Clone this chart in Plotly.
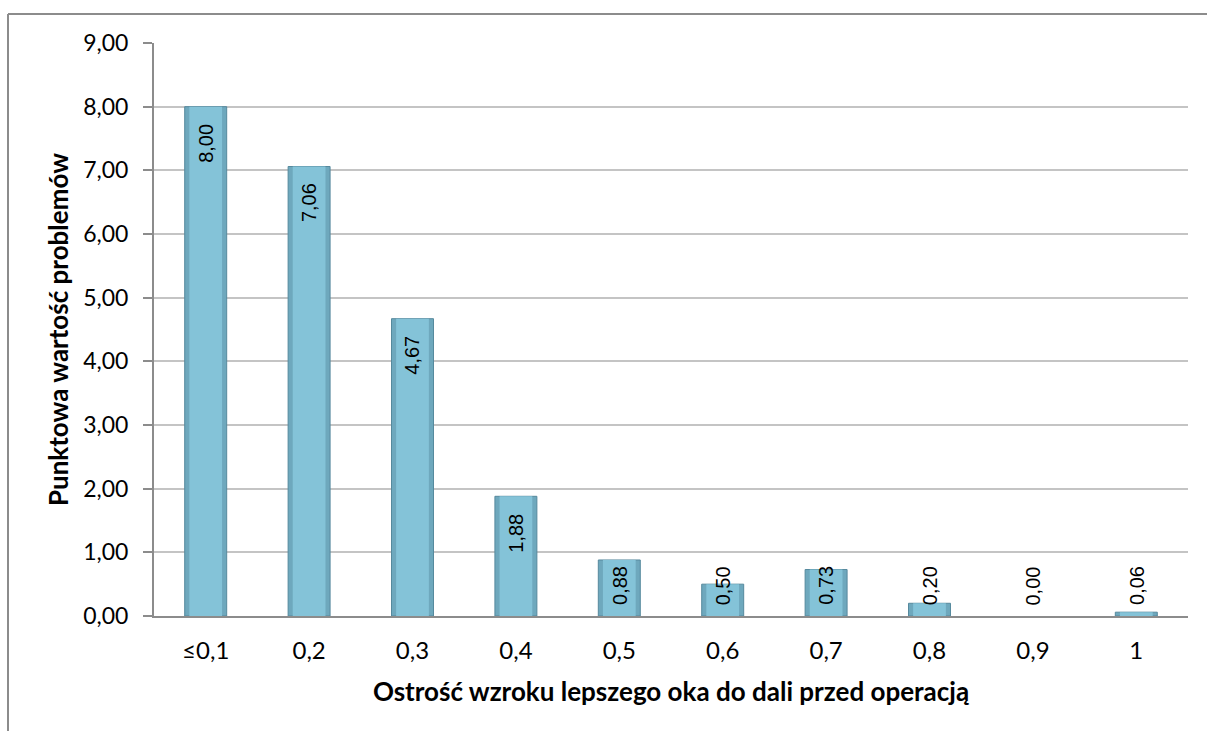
import plotly.graph_objects as go

# Visual acuity of the better eye (distance, pre-op) vs. mean problem score
categories = ["≤0,1", "0,2", "0,3", "0,4", "0,5", "0,6", "0,7", "0,8", "0,9", "1"]
scores = [8.00, 7.06, 4.67, 1.88, 0.88, 0.50, 0.73, 0.20, 0.00, 0.06]
y_ticks = [0, 1, 2, 3, 4, 5, 6, 7, 8, 9]
y_tick_text = ["0,00", "1,00", "2,00", "3,00", "4,00", "5,00", "6,00", "7,00", "8,00", "9,00"]

AXIS_FONT = "Lato, Carlito, Calibri, sans-serif"
LABEL_FONT = "Liberation Sans, Arial, sans-serif"

positions = list(range(len(categories)))
BAR_W = 0.406

fig = go.Figure()
# Bar body with darker bevelled edges
fig.add_trace(go.Bar(
    x=positions, y=scores, width=BAR_W,
    marker=dict(
        color="#6ea8bd",
        line=dict(color="#56899d", width=[1 if v > 0 else 0 for v in scores]),
    ),
    hoverinfo="skip",
))
# Lighter face of each bar
fig.add_trace(go.Bar(
    x=positions, y=scores, width=BAR_W * 0.78,
    marker=dict(color="#84c3d8", line=dict(width=0)),
    hoverinfo="skip",
))

# Rotated value labels near the top of each bar; short bars keep the label
# just above the baseline so it stays readable.
LABEL_MIN = 1.05
for pos, v in zip(positions, scores):
    fig.add_annotation(
        x=pos, y=max(v, LABEL_MIN), xref="x", yref="y",
        text=f"{v:.2f}".replace(".", ","),
        textangle=-90, showarrow=False,
        xanchor="center", yanchor="top", yshift=-15,
        font=dict(family=LABEL_FONT, size=20, color="#000000"),
    )

# Outer chart frame (top and left edges)
fig.add_shape(type="line", xref="paper", yref="paper",
              x0=-0.1412, y0=1.0506, x1=1.03, y1=1.0506,
              line=dict(color="#8c8c8c", width=2))
fig.add_shape(type="line", xref="paper", yref="paper",
              x0=-0.1412, y0=1.0506, x1=-0.1412, y1=-0.21,
              line=dict(color="#8c8c8c", width=2))

fig.update_layout(
    width=1207, height=731,
    margin=dict(l=154, r=19, t=43, b=115),
    paper_bgcolor="white", plot_bgcolor="white",
    barmode="overlay",
    showlegend=False,
    font=dict(family=AXIS_FONT, color="#000000"),
)
fig.update_xaxes(
    type="linear", range=[-0.5, len(categories) - 0.5],
    tickvals=positions, ticktext=categories,
    showline=True, linecolor="#8c8c8c", linewidth=2,
    showgrid=False, ticks="", zeroline=False,
    tickfont=dict(family=AXIS_FONT, size=24),
    ticklabelstandoff=12,
    title=dict(text="<b>Ostrość wzroku lepszego oka do dali przed operacją</b>",
               font=dict(family=AXIS_FONT, size=26), standoff=20),
)
fig.update_yaxes(
    range=[0, 9], tickvals=y_ticks, ticktext=y_tick_text,
    showline=True, linecolor="#8c8c8c", linewidth=2,
    showgrid=True, gridcolor="#c4c4c4", gridwidth=2,
    ticks="outside", ticklen=9, tickcolor="#8c8c8c", tickwidth=2,
    tickfont=dict(family=AXIS_FONT, size=23),
    ticklabelstandoff=10,
    zeroline=False,
    title=dict(text="<b>Punktowa wartość problemów</b>",
               font=dict(family=AXIS_FONT, size=26), standoff=7),
)

fig.write_html("out.html")
